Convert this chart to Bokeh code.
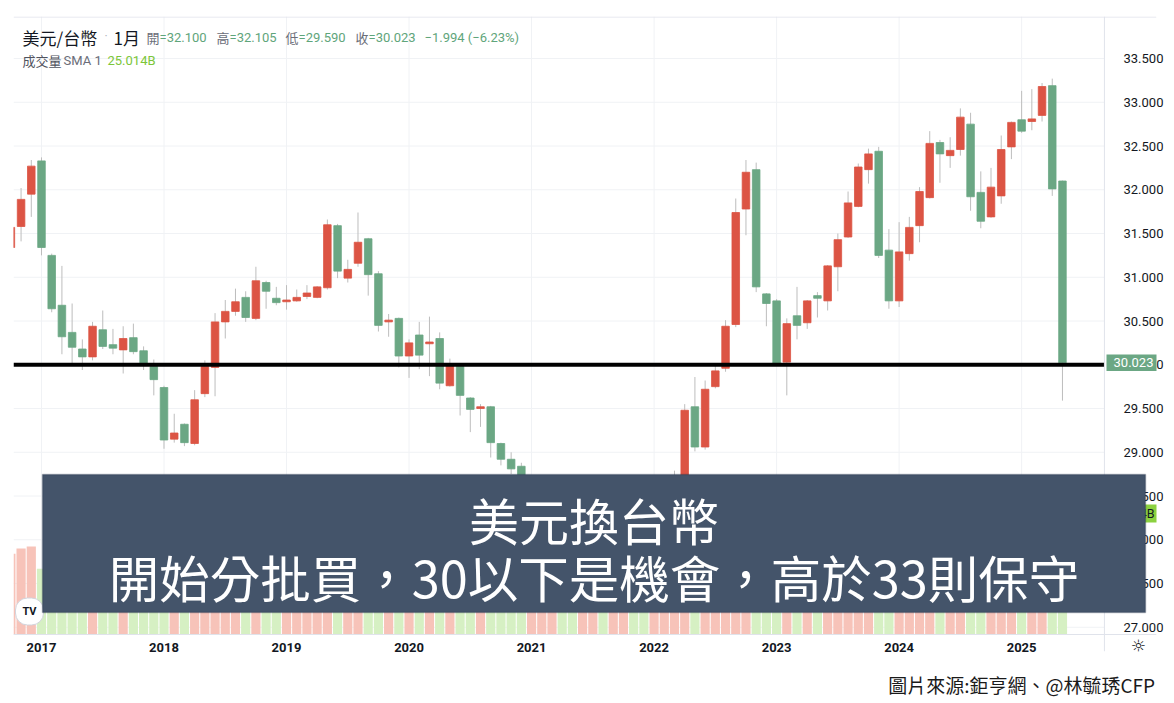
import pandas as pd
from bokeh.plotting import figure
from bokeh.models import (Range1d, FixedTicker, NumeralTickFormatter, Span,
                          BoxAnnotation, Label, ColumnDataSource, LinearAxis)
from bokeh.embed import file_html
from bokeh.resources import INLINE

# ---------------- data (USD/TWD monthly, Oct 2016 .. May 2025) ----------------
first_month = "2016-10"
last_month = "2025-05"

opens = [31.34, 31.58, 31.95, 32.33, 31.25, 30.68, 30.37, 30.18, 30.09, 30.40,
         30.23, 30.17, 30.31, 30.16, 29.98, 29.74, 29.15, 29.32, 29.10, 29.67,
         29.97, 30.49, 30.61, 30.77, 30.53, 30.94, 30.76, 30.72, 30.73, 30.78,
         30.77, 30.88, 31.59, 30.99, 31.16, 31.44, 31.04, 30.49, 30.53, 30.10,
         30.34, 30.24, 30.30, 29.76, 29.98, 29.62, 29.50, 29.52, 29.10, 28.92,
         28.84, 28.08, 27.85, 27.96, 28.52, 27.95, 27.68, 27.88, 28.00, 27.78,
         27.86, 27.90, 27.74, 27.66, 27.82, 27.95, 28.62, 29.52, 29.06, 29.75,
         29.96, 30.46, 31.78, 32.23, 30.81, 30.73, 30.03, 30.56, 30.48, 30.79,
         30.73, 31.12, 31.46, 31.81, 32.23, 32.44, 31.31, 30.73, 31.27, 31.59,
         31.91, 32.54, 32.39, 32.46, 32.75, 31.97, 31.69, 31.93, 32.49, 32.80,
         32.78, 32.85, 33.19, 32.100]
highs = [31.60, 32.02, 32.34, 32.37, 31.27, 31.13, 30.70, 30.29, 30.49, 30.62,
         30.41, 30.44, 30.47, 30.21, 30.06, 29.76, 29.44, 29.33, 29.71, 30.05,
         30.59, 30.74, 30.87, 30.84, 31.12, 30.96, 30.89, 30.91, 30.86, 30.91,
         30.90, 31.66, 31.61, 31.20, 31.74, 31.45, 31.07, 30.58, 30.54, 30.29,
         30.49, 30.55, 30.37, 30.07, 30.00, 29.63, 29.55, 29.53, 29.11, 29.00,
         28.88, 28.22, 28.05, 28.60, 28.55, 28.10, 28.00, 28.15, 28.05, 27.98,
         28.00, 27.92, 27.80, 27.90, 28.05, 28.79, 29.55, 29.86, 29.82, 29.99,
         30.51, 31.90, 32.34, 32.31, 30.82, 30.75, 30.53, 30.89, 30.74, 30.83,
         31.14, 31.50, 31.98, 32.30, 32.47, 32.49, 31.55, 31.63, 31.69, 32.03,
         32.67, 32.57, 32.60, 32.93, 32.88, 32.21, 32.25, 32.62, 32.78, 33.13,
         33.15, 33.22, 33.27, 32.105]
lows = [31.30, 31.41, 31.69, 31.25, 30.60, 30.12, 30.01, 29.94, 30.05, 30.18,
        30.12, 29.90, 30.12, 29.94, 29.65, 29.04, 29.11, 29.07, 29.08, 29.63,
        29.64, 30.30, 30.56, 30.49, 30.51, 30.64, 30.68, 30.63, 30.72, 30.75,
        30.76, 30.86, 30.99, 30.94, 31.12, 30.79, 30.38, 30.32, 29.97, 29.85,
        29.95, 29.87, 29.72, 29.75, 29.42, 29.23, 29.29, 28.94, 28.85, 28.75,
        28.08, 27.98, 27.80, 27.90, 27.90, 27.60, 27.58, 27.85, 27.72, 27.60,
        27.80, 27.70, 27.62, 27.60, 27.78, 27.90, 28.60, 29.01, 29.03, 29.73,
        29.92, 30.43, 31.48, 30.83, 30.44, 29.99, 29.65, 30.29, 30.41, 30.54,
        30.62, 30.84, 31.45, 31.80, 32.07, 31.22, 30.64, 30.66, 31.19, 31.40,
        31.90, 32.08, 32.25, 32.39, 31.76, 31.56, 31.68, 31.84, 32.35, 32.65,
        32.68, 32.78, 31.93, 29.590]
closes = [31.57, 31.89, 32.27, 31.34, 30.64, 30.32, 30.20, 30.09, 30.44, 30.21,
          30.19, 30.30, 30.15, 30.01, 29.83, 29.14, 29.22, 29.11, 29.60, 29.98,
          30.49, 30.61, 30.72, 30.54, 30.96, 30.84, 30.71, 30.74, 30.77, 30.82,
          30.89, 31.60, 31.07, 31.09, 31.40, 31.03, 30.45, 30.51, 30.10, 30.25,
          30.11, 30.26, 29.79, 30.01, 29.65, 29.49, 29.52, 29.11, 28.92, 28.81,
          28.10, 28.14, 27.96, 28.52, 27.95, 27.68, 27.88, 28.00, 27.78, 27.86,
          27.90, 27.74, 27.66, 27.82, 27.95, 28.62, 29.48, 29.06, 29.72, 29.93,
          30.44, 31.74, 32.20, 30.89, 30.70, 30.02, 30.47, 30.45, 30.73, 30.76,
          31.13, 31.43, 31.85, 32.26, 32.41, 31.25, 30.73, 31.29, 31.57, 31.98,
          32.53, 32.41, 32.45, 32.83, 31.92, 31.64, 32.03, 32.46, 32.77, 32.67,
          32.81, 33.18, 32.01, 30.023]
volumes_b = [16.7, 17.8, 18.2, 13.6, 15.2, 19.4, 14.8, 16.1, 17.3, 15.9,
             14.2, 16.8, 15.5, 14.9, 18.7, 20.3, 17.6, 19.1, 16.4, 18.9,
             21.2, 17.4, 16.2, 19.8, 18.3, 15.7, 14.6, 16.9, 17.2, 21.5,
             19.6, 16.3, 18.4, 17.1, 20.2, 15.8, 17.9, 19.3, 16.6, 22.4,
             18.8, 17.5, 16.9, 18.1, 15.4, 17.7, 19.2, 16.5, 18.6, 17.3,
             20.1, 19.4, 16.8, 17.6, 18.2, 15.9, 16.7, 17.4, 15.6, 16.3,
             17.8, 18.5, 19.7, 21.3, 20.6, 19.2, 18.4, 20.8, 23.5, 22.7,
             21.9, 18.3, 19.6, 20.4, 18.1, 17.2, 16.8, 19.4, 20.7, 21.6,
             20.3, 18.9, 22.1, 19.8, 18.6, 17.9, 19.5, 20.2, 18.7, 19.1,
             20.6, 22.3, 19.7, 18.4, 20.9, 19.3, 21.4, 20.5, 19.9, 22.8,
             21.7, 23.6, 24.2, 25.014]

year_labels = ["2017", "2018", "2019", "2020", "2021", "2022", "2023", "2024", "2025"]
price_ticks = [27.0, 27.5, 28.0, 28.5, 29.0, 29.5, 30.0, 30.5, 31.0, 31.5,
               32.0, 32.5, 33.0, 33.5]
support_level = 30.0
change_text = "\u22121.994 (\u22126.23%)"

title_pair = "美元/台幣"
interval = "1月"
banner_line1 = "美元換台幣"
banner_line2 = "開始分批買，30以下是機會，高於33則保守"
caption = "圖片來源:鉅亨網、@林毓琇CFP"

# ---------------- layout constants ----------------
W, H = 1174, 702
FL, FR, FT, FB = 13, 1156, 16, 651        # frame edges in page pixels
X_START, X_END = -2.742, 109.21           # months (0 = Jan 2017)
PANE_RIGHT = 104.11                       # right edge of the price pane
Y_START, Y_END = 26.7229, 33.98
PANE_BOTTOM = 26.917                      # bottom edge of the price pane
CAPTION_X = 96

def sx(px):  # page x -> frame screen x
    return px - FL

def sy(py):  # page y -> frame screen y (from bottom)
    return FB - py

periods = pd.period_range(first_month, last_month, freq="M")
xs = [(pp.year - 2017) * 12 + (pp.month - 1) for pp in periods]

UP = "#DC5444"
DOWN = "#6BA784"
VOL_UP = "#F7C3B9"
VOL_DOWN = "#D6F0C3"
GRID = "#F0F2F5"
SEP = "#E0E3EB"

src = ColumnDataSource(dict(
    x=xs, o=opens, h=highs, l=lows, c=closes, v=volumes_b,
    btop=[max(a, b) for a, b in zip(opens, closes)],
    bbot=[min(a, b) for a, b in zip(opens, closes)],
    color=[UP if c >= o else DOWN for o, c in zip(opens, closes)],
    vcolor=[VOL_UP if c >= o else VOL_DOWN for o, c in zip(opens, closes)],
))

p = figure(width=W, height=H,
           x_range=Range1d(X_START, X_END), y_range=Range1d(Y_START, Y_END),
           y_axis_location="right", output_backend="svg", toolbar_location=None,
           title=None, min_border_left=FL, min_border_right=W - FR,
           min_border_top=FT, min_border_bottom=H - FB)
p.extra_y_ranges = {"vol": Range1d(-3.514, 127.76)}
p.outline_line_color = None
p.background_fill_color = "white"
p.border_fill_color = "white"
p.xgrid.grid_line_color = None
p.ygrid.grid_line_color = None

# x axis (years), labels pulled up into the time row
year_ticks = [(int(y) - 2017) * 12 for y in year_labels]
p.xaxis.ticker = FixedTicker(ticks=year_ticks)
p.xaxis.major_label_overrides = {t: lab for t, lab in zip(year_ticks, year_labels)}
p.xaxis.axis_line_color = None
p.xaxis.major_tick_line_color = None
p.xaxis.minor_tick_line_color = None
p.xaxis.major_label_standoff = -15
p.xaxis.major_label_text_font = "Roboto"
p.xaxis.major_label_text_font_style = "bold"
p.xaxis.major_label_text_font_size = "13px"
p.xaxis.major_label_text_color = "#131722"

# caption as a second bottom axis line
cap_axis = LinearAxis(ticker=FixedTicker(ticks=[CAPTION_X]),
                      major_label_overrides={CAPTION_X: caption})
cap_axis.axis_line_color = None
cap_axis.major_tick_line_color = None
cap_axis.minor_tick_line_color = None
cap_axis.major_label_standoff = 10
cap_axis.major_label_text_font = "Noto Sans CJK TC"
cap_axis.major_label_text_font_size = "19px"
cap_axis.major_label_text_color = "#1A1A1A"
p.add_layout(cap_axis, "below")

# right price axis (labels drawn back over the pane edge)
p.yaxis.ticker = FixedTicker(ticks=price_ticks)
p.yaxis.formatter = NumeralTickFormatter(format="0.000")
p.yaxis.axis_line_color = None
p.yaxis.major_tick_line_color = None
p.yaxis.minor_tick_line_color = None
p.yaxis.major_label_standoff = -39
p.yaxis.major_label_text_font = "Roboto"
p.yaxis.major_label_text_font_size = "13px"
p.yaxis.major_label_text_color = "#131722"

# grid lines
p.segment(x0=X_START, x1=PANE_RIGHT, y0=price_ticks, y1=price_ticks, line_color=GRID, line_width=1)
p.segment(x0=year_ticks, x1=year_ticks, y0=PANE_BOTTOM, y1=Y_END, line_color=GRID, line_width=1)

# volume
p.vbar(x="x", top="v", bottom=0, width=0.9, y_range_name="vol",
       fill_color="vcolor", line_color=None, source=src)
# candles
p.segment(x0="x", y0="h", x1="x", y1="l", line_color="#BDBDBD", line_width=1, source=src)
p.vbar(x="x", top="btop", bottom="bbot", width=0.74, fill_color="color",
       line_color="color", line_width=0.8, source=src)

# pane separators
p.add_layout(Span(location=PANE_RIGHT, dimension="height", line_color=SEP, line_width=1))
p.add_layout(Span(location=Y_END - 0.006, dimension="width", line_color=SEP, line_width=1))
p.add_layout(Span(location=PANE_BOTTOM, dimension="width", line_color=SEP, line_width=1))

# support line
p.segment(x0=[X_START], x1=[PANE_RIGHT], y0=[support_level], y1=[support_level],
          line_color="black", line_width=4)

# header
def lab(px, py, text, size="13px", color="#131722", font="Roboto", **kw):
    p.add_layout(Label(x=sx(px), y=sy(py), x_units="screen", y_units="screen", text=text,
                       text_font_size=size, text_color=color, text_font=font,
                       text_baseline="middle", **kw))

GRAY = "#6A6D78"
VAL = "#5FA57B"
lab(22, 37, title_pair, size="17px", font="Noto Sans CJK TC")
lab(104, 35, "·", size="12px", color="#B2B5BE")
lab(113, 37, interval, size="17px", font="Noto Sans CJK TC")
ohlc_items = [("開", opens[-1]), ("高", highs[-1]), ("低", lows[-1]), ("收", closes[-1])]
starts = [146, 216, 285, 355]
for (k, val), x0 in zip(ohlc_items, starts):
    lab(x0, 37, k, color=GRAY, font="Noto Sans CJK TC")
    lab(x0 + 13, 37, f"={val:.3f}", color=VAL)
lab(424, 37, change_text, color=VAL)
lab(22, 60, "成交量", color="#50535E", font="Noto Sans CJK TC")
lab(63, 60, "SMA 1", color=GRAY)
lab(107, 60, f"{volumes_b[-1]:.3f}B", color="#7CC63A")

# last price label on the price scale
p.add_layout(BoxAnnotation(left=sx(1106), right=sx(1160), left_units="screen", right_units="screen",
                           bottom=closes[-1] - 0.095, top=closes[-1] + 0.095,
                           fill_color=DOWN, fill_alpha=1, line_color=None))
p.add_layout(Label(x=sx(1133), y=closes[-1], x_units="screen", text=f"{closes[-1]:.3f}",
                   text_align="center", text_baseline="middle", text_color="white",
                   text_font="Roboto", text_font_size="13px"))
# last volume label
p.add_layout(BoxAnnotation(left=sx(1105), right=sx(1167), left_units="screen", right_units="screen",
                           bottom=volumes_b[-1] - 1.86, top=volumes_b[-1] + 1.86,
                           y_range_name="vol", fill_color="#8BD13F", fill_alpha=1, line_color=None))
p.add_layout(Label(x=sx(1154), y=volumes_b[-1], x_units="screen", y_range_name="vol",
                   text=f"{volumes_b[-1]:.3f}B", text_align="right", text_baseline="middle",
                   text_color="#131722", text_font="Roboto", text_font_size="12.5px"))

# TradingView logo
p.add_layout(Label(x=sx(29), y=sy(611), x_units="screen", y_units="screen", text="TV",
                   text_align="center", text_baseline="middle", text_font="Roboto",
                   text_font_style="bold", text_font_size="11px", text_color="#131722",
                   background_fill_color="white", border_line_color="#D1D4DC",
                   border_radius=12, padding=7))

# settings icon in the time row
p.add_layout(Label(x=sx(1138), y=sy(645), x_units="screen", y_units="screen", text="☼",
                   text_align="center", text_baseline="middle", text_color="#131722",
                   text_font="DejaVu Sans", text_font_style="bold", text_font_size="17px"))

# banner
p.add_layout(BoxAnnotation(left=sx(42), right=sx(1145), top=sy(474), bottom=sy(612),
                           left_units="screen", right_units="screen",
                           top_units="screen", bottom_units="screen",
                           fill_color="#44546A", fill_alpha=1,
                           line_color="#1F2B44", line_width=1.5))
p.add_layout(Label(x=sx(593.5), y=sy(518), x_units="screen", y_units="screen", text=banner_line1,
                   text_align="center", text_baseline="middle", text_color="white",
                   text_font="Noto Sans CJK TC", text_font_size="50px"))
p.add_layout(Label(x=sx(593.5), y=sy(575), x_units="screen", y_units="screen", text=banner_line2,
                   text_align="center", text_baseline="middle", text_color="white",
                   text_font="Noto Sans CJK TC", text_font_size="50.5px"))

open("out.html", "w").write(file_html(p, INLINE))
